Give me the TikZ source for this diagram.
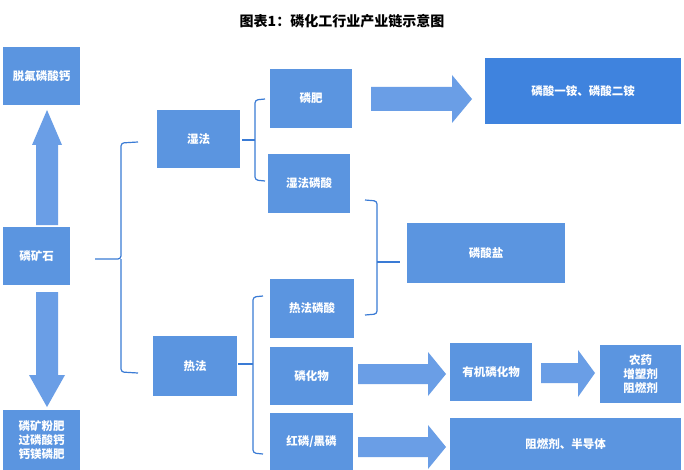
\documentclass[tikz,border=0pt]{standalone}
\usepackage{fontspec}
\setmainfont{Noto Sans CJK SC}
\begin{document}
\begin{tikzpicture}[x=1pt,y=-1pt,
  box/.style={draw=none,text=white,font=\bfseries\fontsize{11.5}{14}\selectfont,align=center},
  arr/.style={fill=arrc,draw=none},
  brace/.style={draw=bracec,line width=1.2pt,rounded corners=3pt}]
\definecolor{boxc}{HTML}{5B95E0}
\definecolor{darkc}{HTML}{3F83DE}
\definecolor{arrc}{HTML}{6A9EE6}
\definecolor{bracec}{HTML}{3A7BD5}
\useasboundingbox (0,0) rectangle (684,470);
\fill[white] (0,0) rectangle (684,470);
\node[font=\bfseries\fontsize{14}{16}\selectfont] (t) at (342,21) {图表1：磷化工行业产业链示意图};
\fill[boxc] (3,47) rectangle (80,105); \node[box] (a) at (41.5,76) {脱氟磷酸钙};
\fill[boxc] (3,227) rectangle (70,285); \node[box] (b) at (36.5,256) {磷矿石};
\fill[boxc] (3,410) rectangle (80,470); \node[box] (c) at (41.5,440) {磷矿粉肥\\过磷酸钙\\钙镁磷肥};
\fill[boxc] (157,110) rectangle (240,168); \node[box] (d) at (198.5,139) {湿法};
\fill[boxc] (153,336) rectangle (237,396); \node[box] (e) at (195,366) {热法};
\fill[boxc] (270,69) rectangle (352,128); \node[box] (f) at (311,98.5) {磷肥};
\fill[boxc] (268,154) rectangle (350,213); \node[box] (g) at (309,183.5) {湿法磷酸};
\fill[darkc] (485,58) rectangle (681,124); \node[box] (h) at (583,91) {磷酸一铵、磷酸二铵};
\fill[boxc] (407,223) rectangle (565,283); \node[box] (i) at (486,253) {磷酸盐};
\fill[boxc] (270,279) rectangle (354,338); \node[box] (j) at (312,308.5) {热法磷酸};
\fill[boxc] (270,347) rectangle (353,405); \node[box] (k) at (311.5,376) {磷化物};
\fill[boxc] (270,413) rectangle (353,470); \node[box] (l) at (311.5,441.5) {红磷/黑磷};
\fill[boxc] (450,343) rectangle (532,401); \node[box] (m) at (491,372) {有机磷化物};
\fill[boxc] (600,345) rectangle (681,403); \node[box] (n) at (640.5,374) {农药\\增塑剂\\阻燃剂};
\fill[boxc] (450,418) rectangle (681,470); \node[box] (o) at (565.5,444) {阻燃剂、半导体};
% block arrows
\fill[arr] (36,225) -- (36,145) -- (32,145) -- (47,110) -- (62,145) -- (58,145) -- (58,225) -- cycle;
\fill[arr] (36,292) -- (36,375) -- (29,375) -- (47,407) -- (65,375) -- (58,375) -- (58,292) -- cycle;
\fill[arr] (371,87) -- (452,87) -- (452,75) -- (472,99) -- (452,123) -- (452,111) -- (371,111) -- cycle;
\fill[arr] (358,364) -- (428,364) -- (428,352) -- (446,374) -- (428,396) -- (428,384) -- (358,384) -- cycle;
\fill[arr] (541,363) -- (578,363) -- (578,350) -- (595,373) -- (578,397) -- (578,383) -- (541,383) -- cycle;
\fill[arr] (358,437) -- (428,437) -- (428,425) -- (446,447) -- (428,469) -- (428,457) -- (358,457) -- cycle;
% braces
\draw[brace] (138,142) -- (121,143) -- (121,259) -- (95,259);
\draw[brace] (121,259) -- (121,372) -- (138,373);
\draw[brace] (265,99) -- (255,100) -- (255,180) -- (265,181);
\draw[brace] (255,140) -- (242,140);
\draw[brace] (365,200) -- (377,201) -- (377,314) -- (365,315);
\draw[brace] (377,262) -- (400,262);
\draw[brace] (263,296) -- (253,297) -- (253,453) -- (263,454);
\draw[brace] (253,364) -- (238,364);
\end{tikzpicture}
\end{document}
